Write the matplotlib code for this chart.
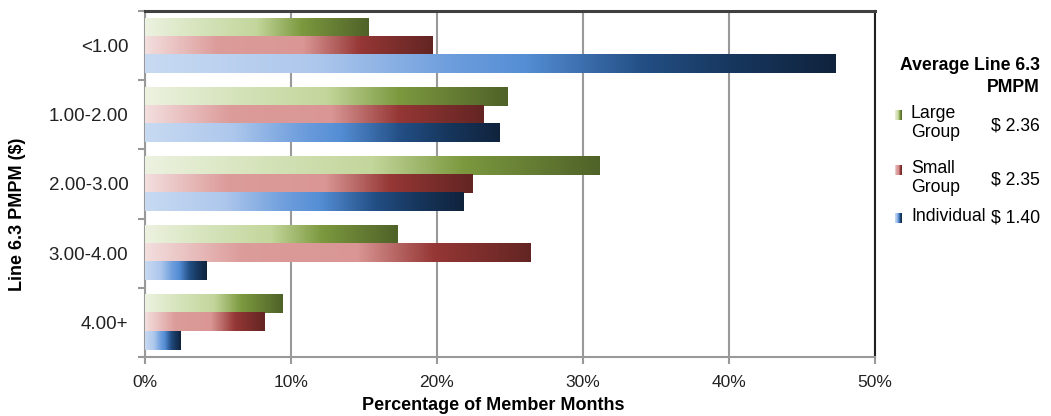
import numpy as np
import matplotlib
matplotlib.use("Agg")
import matplotlib.pyplot as plt
from matplotlib.colors import LinearSegmentedColormap

plt.rcParams['font.family'] = ['Liberation Sans', 'DejaVu Sans']

categories = ["<1.00", "1.00-2.00", "2.00-3.00", "3.00-4.00", "4.00+"]
series_names = ["Large\nGroup", "Small\nGroup", "Individual"]
large_group = [15.3, 24.8, 31.1, 17.3, 9.4]
small_group = [19.7, 23.2, 22.4, 26.4, 8.2]
individual = [47.3, 24.3, 21.8, 4.2, 2.45]
avg_pmpm = ["$ 2.36", "$ 2.35", "$ 1.40"]
xticks = [0, 10, 20, 30, 40, 50]

cmaps = [
    LinearSegmentedColormap.from_list("g", [(0, '#ecf2e0'), (0.22, '#d8e5bf'), (0.5, '#c3d69b'),
                                            (0.7, '#7c993f'), (1, '#4f6228')]),
    LinearSegmentedColormap.from_list("r", [(0, '#f3dede'), (0.25, '#dc9c9a'), (0.55, '#d99694'),
                                            (0.75, '#953735'), (1, '#632523')]),
    LinearSegmentedColormap.from_list("b", [(0, '#c8daf2'), (0.25, '#adc7ec'), (0.45, '#6b9cdc'),
                                            (0.55, '#558ed5'), (0.72, '#234f85'), (0.85, '#17375e'),
                                            (1, '#10233d')]),
]

fig = plt.figure(figsize=(10.51, 4.16), dpi=100)
ax = fig.add_axes([145/1051, 1-357/416, 730/1051, 346/416])

n = len(categories)
y = np.arange(n)
h = 0.262
offsets = [-h, 0, h]
grad = np.linspace(0, 1, 256).reshape(1, -1)
for vals, off, cm in zip([large_group, small_group, individual], offsets, cmaps):
    bars = ax.barh(y + off, vals, height=h, color='none', edgecolor='none', zorder=3)
    for b in bars:
        x0, y0 = b.get_x(), b.get_y()
        w, hh = b.get_width(), b.get_height()
        ax.imshow(grad, cmap=cm, aspect='auto', extent=(x0, x0 + w, y0 + hh, y0),
                  interpolation='bilinear', zorder=3)

ax.set_xlim(0, 50)
ax.set_ylim(n - 0.5, -0.5)
ax.set_xticks(xticks)
ax.set_xticklabels([f"{t}%" for t in xticks], fontsize=12.5, color='#222222')
ax.set_yticks(y)
ax.set_yticklabels(categories, fontsize=13.5, color='#222222')
ax.set_yticks(np.arange(-0.5, n, 1), minor=True)
ax.tick_params(axis='y', which='major', length=0, pad=12)
ax.tick_params(axis='y', which='minor', length=5, color='#999999', width=1.5, direction='out')
ax.tick_params(axis='x', length=5, color='#999999', width=1.5, direction='out', pad=8)
ax.grid(axis='x', color='#999999', linewidth=1.5, zorder=1)
ax.set_axisbelow(True)
for s in ['left', 'bottom']:
    ax.spines[s].set_color('#999999')
    ax.spines[s].set_linewidth(1.5)
ax.spines['top'].set_color('#404040')
ax.spines['top'].set_linewidth(2.2)
ax.spines['right'].set_color('#202020')
ax.spines['right'].set_linewidth(1.5)

fig.text(493/1051, 1-405/416, "Percentage of Member Months", fontsize=13, fontweight='bold',
         ha='center', va='center')
fig.text(18/1051, 1-214/416, "Line 6.3 PMPM ($)", rotation=90, fontsize=13, fontweight='bold',
         ha='center', va='center')

# legend
fig.text(1040/1051, 1-65/416, "Average Line 6.3", fontsize=12.7, fontweight='bold',
         ha='right', va='center')
fig.text(1040/1051, 1-88/416, "PMPM", fontsize=12.7, fontweight='bold',
         ha='right', va='center')
first_line_y = [115, 170, 218]
value_y = [126, 180, 218]
for name, val, cm, ly, vy in zip(series_names, avg_pmpm, cmaps, first_line_y, value_y):
    lax = fig.add_axes([895/1051, 1-(ly + 5)/416, 7/1051, 10/416])
    lax.imshow(grad, cmap=cm, aspect='auto', interpolation='bilinear')
    lax.axis('off')
    fig.text(911/1051, 1-(ly - 10)/416, name, fontsize=12.7, ha='left', va='top',
             linespacing=1.12)
    fig.text(1040/1051, 1-vy/416, val, fontsize=12.7, ha='right', va='center')

fig.savefig("out.png", dpi=100)
